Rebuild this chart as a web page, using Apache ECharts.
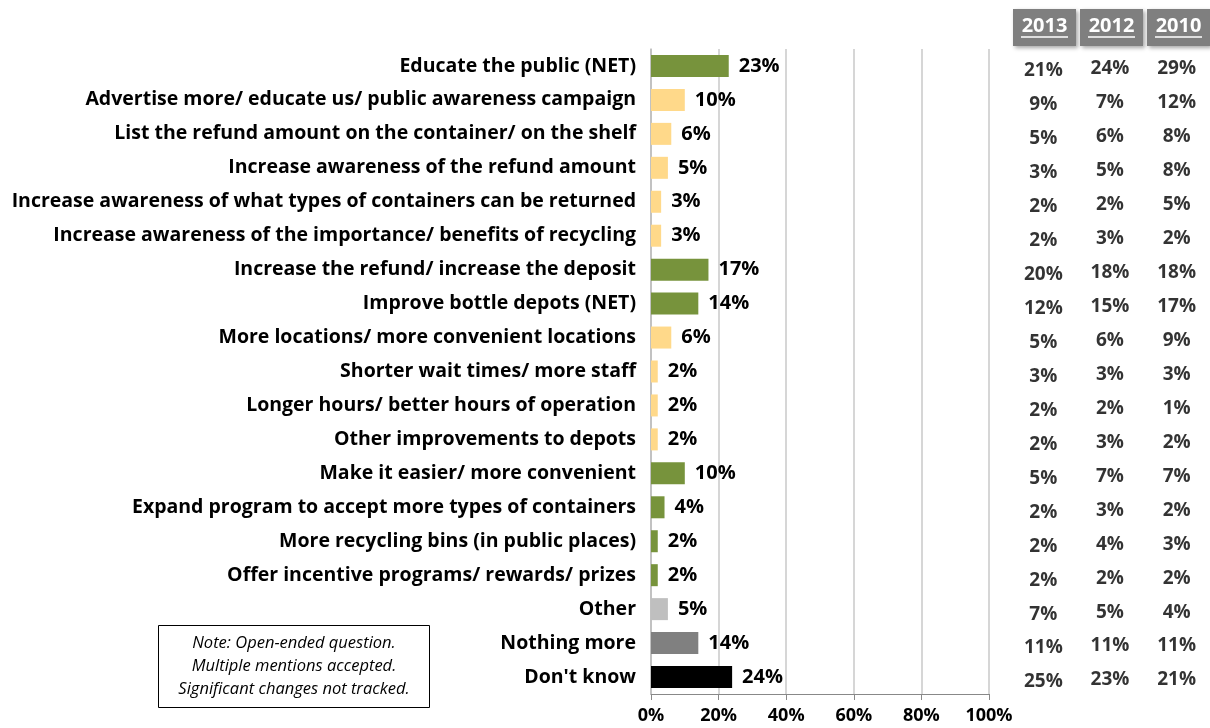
<!DOCTYPE html>
<html>
<head>
<meta charset="utf-8">
<script src="https://cdn.jsdelivr.net/npm/echarts@6/dist/echarts.min.js"></script>
<style>
  html, body { margin: 0; padding: 0; background: #fff; }
  #chart { width: 1210px; height: 728px; }
</style>
</head>
<body>
<div id="chart"></div>
<script>
// categories, top to bottom
var categories = [
    'Educate the public (NET)',
    'Advertise more/ educate us/ public awareness campaign',
    'List the refund amount on the container/ on the shelf',
    'Increase awareness of the refund amount',
    'Increase awareness of what types of containers can be returned',
    'Increase awareness of the importance/ benefits of recycling',
    'Increase the refund/ increase the deposit',
    'Improve bottle depots (NET)',
    'More locations/ more convenient locations',
    'Shorter wait times/ more staff',
    'Longer hours/ better hours of operation',
    'Other improvements to depots',
    'Make it easier/ more convenient',
    'Expand program to accept more types of containers',
    'More recycling bins (in public places)',
    'Offer incentive programs/ rewards/ prizes',
    'Other',
    'Nothing more',
    "Don't know"
];
// 2014 values (bars)
var current = [23, 10, 6, 5, 3, 3, 17, 14, 6, 2, 2, 2, 10, 4, 2, 2, 5, 14, 24];
// bar colour group per row: net / sub / other / nothing / dk
var groups = ['net', 'sub', 'sub', 'sub', 'sub', 'sub', 'net', 'net', 'sub', 'sub', 'sub', 'sub',
              'net', 'net', 'net', 'net', 'other', 'nothing', 'dk'];
// earlier years (table on the right)
var years = ['2013', '2012', '2010'];
var y2013 = [21, 9, 5, 3, 2, 2, 20, 12, 5, 3, 2, 2, 5, 2, 2, 2, 7, 11, 25];
var y2012 = [24, 7, 6, 5, 2, 3, 18, 15, 6, 3, 2, 3, 7, 3, 4, 2, 5, 11, 23];
var y2010 = [29, 12, 8, 8, 5, 2, 18, 17, 9, 3, 1, 2, 7, 2, 3, 2, 4, 11, 21];
var xTicks = [0, 20, 40, 60, 80, 100];

var colors = { net: '#77933c', sub: '#ffd98a', other: '#bfbfbf', nothing: '#808080', dk: '#000000' };
var FONT = 'Open Sans';

var chart = echarts.init(document.getElementById('chart'));

var barData = current.map(function (v, i) {
    return { value: v, itemStyle: { color: colors[groups[i]] } };
});

function tableSeries(idx, vals, dy) {
    return {
        type: 'scatter',
        xAxisIndex: 1,
        yAxisIndex: 1,
        symbolSize: 0,
        silent: true,
        data: vals.map(function (v, i) { return [years[idx], categories[i], v]; }),
        label: {
            show: true,
            position: 'inside',
            offset: [0, dy],
            formatter: function (p) { return p.value[2] + '%'; },
            color: '#000',
            fontFamily: FONT,
            fontWeight: 'bold',
            fontSize: 19
        }
    };
}

var headerGraphics = [];
var headerX = [1013, 1080, 1147];
years.forEach(function (y, i) {
    headerGraphics.push({
        type: 'rect',
        shape: { x: headerX[i], y: 9, width: 63, height: 37 },
        style: { fill: '#7f7f7f', shadowBlur: 4, shadowOffsetX: 2, shadowOffsetY: 2, shadowColor: 'rgba(0,0,0,0.35)' }
    });
    headerGraphics.push({
        type: 'text',
        x: headerX[i] + 31.5, y: 26,
        style: { text: y, fill: '#fff', font: 'bold 20px "Open Sans"', align: 'center', verticalAlign: 'middle' }
    });
    headerGraphics.push({
        type: 'line',
        shape: { x1: headerX[i] + 8, y1: 37, x2: headerX[i] + 55, y2: 37 },
        style: { stroke: '#fff', lineWidth: 1.5 }
    });
});

var option = {
    animation: false,
    grid: [
        { left: 651, right: 221, top: 49, height: 645 },
        { left: 1010, width: 200, top: 49, height: 645 }
    ],
    xAxis: [
        {
            type: 'value',
            min: 0,
            max: 100,
            interval: 20,
            axisLine: { show: true, lineStyle: { color: '#888' } },
            axisTick: { show: true, length: 6, lineStyle: { color: '#888' } },
            splitLine: { show: true, lineStyle: { color: '#c8c8c8', width: 1.5 } },
            axisLabel: {
                margin: 13,
                color: '#000',
                fontFamily: FONT,
                fontWeight: 'bold',
                fontSize: 18,
                formatter: function (v) { return xTicks.indexOf(v) >= 0 ? v + '%' : ''; }
            }
        },
        {
            gridIndex: 1,
            type: 'category',
            data: years,
            show: false
        }
    ],
    yAxis: [
        {
            type: 'category',
            data: categories,
            inverse: true,
            axisLine: { show: true, lineStyle: { color: '#bbb', width: 1.5 } },
            axisTick: { show: false },
            splitLine: { show: false },
            axisLabel: {
                margin: 15,
                color: '#000',
                fontFamily: FONT,
                fontWeight: 'bold',
                fontSize: 19.5,
                interval: 0
            }
        },
        {
            gridIndex: 1,
            type: 'category',
            data: categories,
            inverse: true,
            show: false
        }
    ],
    series: [
        {
            type: 'bar',
            data: barData,
            barWidth: 22,
            label: {
                show: true,
                position: 'right',
                distance: 10,
                formatter: '{c}%',
                color: '#000',
                fontFamily: FONT,
                fontWeight: 'bold',
                fontSize: 20
            }
        },
        tableSeries(0, y2013, 5),
        tableSeries(1, y2012, 3),
        tableSeries(2, y2010, 3)
    ],
    graphic: headerGraphics.concat([
        {
            type: 'rect',
            shape: { x: 158.5, y: 625.5, width: 271, height: 82 },
            style: { fill: '#fff', stroke: '#000', lineWidth: 1 }
        },
        {
            type: 'text',
            x: 294, y: 666,
            style: {
                text: 'Note: Open-ended question.\nMultiple mentions accepted.\nSignificant changes not tracked.',
                font: 'italic 16.5px "Open Sans"',
                lineHeight: 23,
                fill: '#000',
                align: 'center',
                verticalAlign: 'middle'
            }
        }
    ])
};

chart.setOption(option);
</script>
</body>
</html>
